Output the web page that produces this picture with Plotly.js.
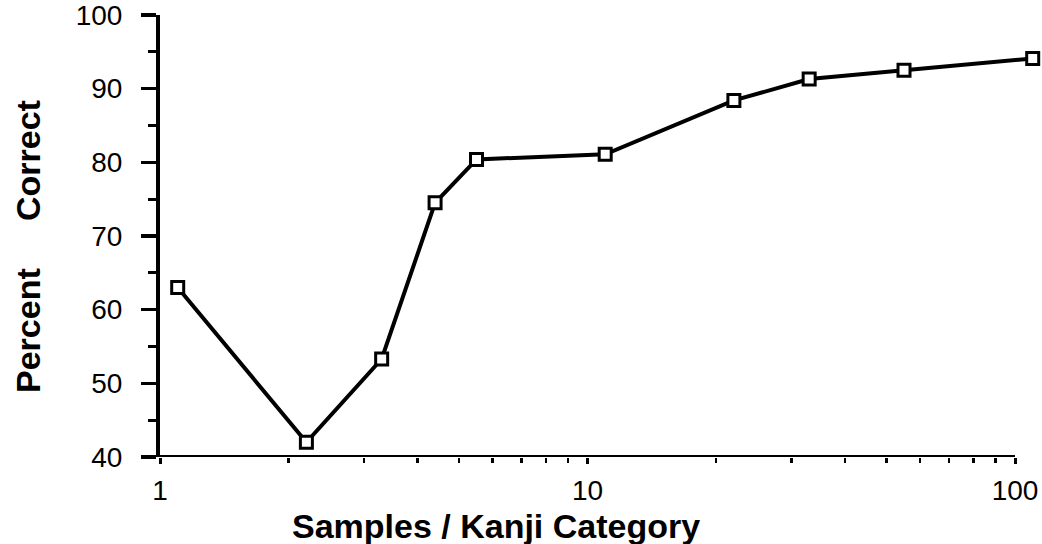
<!DOCTYPE html>
<html>
<head>
<meta charset="utf-8">
<script src="https://cdn.plot.ly/plotly-3.0.1.min.js"></script>
<style>html,body{margin:0;padding:0;background:#fff;}#chart{width:1042px;height:544px;}</style>
</head>
<body>
<div id="chart"></div>
<script>
const samples = [1.1, 2.2, 3.3, 4.4, 5.5, 11, 22, 33, 55, 110];
const percentCorrect = [63.0, 42.0, 53.3, 74.5, 80.4, 81.1, 88.4, 91.3, 92.5, 94.1];
const xTickVals = [1, 10, 100];
const xTickText = ["1", "10", "100"];
const xMinorVals = [2, 3, 4, 5, 6, 7, 8, 9, 20, 30, 40, 50, 60, 70, 80, 90];
const yTickVals = [40, 50, 60, 70, 80, 90, 100];
const yMinorVals = [45, 55, 65, 75, 85, 95];
const xTitle = "Samples / Kanji Category";
const yTitle = "Percent\u00a0\u00a0\u00a0\u00a0\u00a0Correct";

const font = "Liberation Sans, Arial, Helvetica, sans-serif";
const ML = 160, MR = 3, MT = 15, MB = 87, W = 1042, H = 544;
const plotW = W - ML - MR, plotH = H - MT - MB;
// x axis from 1 up past 100 so the last point (110) stays visible; axis line drawn 1..100
const xMax = Math.log10(xTickVals[xTickVals.length - 1]) * plotW / 855;

Plotly.newPlot("chart", [{
  x: samples,
  y: percentCorrect,
  type: "scatter",
  mode: "lines+markers",
  line: {color: "#000", width: 4},
  marker: {symbol: "square", size: 12, color: "#fff", line: {color: "#000", width: 3}},
  cliponaxis: false,
  showlegend: false
}], {
  width: W, height: H,
  paper_bgcolor: "#fff", plot_bgcolor: "#fff",
  margin: {l: ML, r: MR, t: MT, b: MB},
  xaxis: {
    type: "log", range: [0, xMax],
    tickmode: "array", tickvals: xTickVals, ticktext: xTickText,
    ticks: "outside", ticklen: 6, tickwidth: 3, tickcolor: "#000",
    minor: {tickmode: "array", tickvals: xMinorVals, ticks: "outside", ticklen: 5, tickwidth: 2.5, tickcolor: "#000", showgrid: false},
    showline: false,
    showgrid: false, zeroline: false,
    tickfont: {family: font, size: 28, color: "#000"},
    ticklabelstandoff: 2,
    ticklabeloverflow: "allow"
  },
  yaxis: {
    range: [40, 100],
    tickmode: "array", tickvals: yTickVals,
    ticks: "outside", ticklen: 15, tickwidth: 3.5, tickcolor: "#000",
    minor: {tickmode: "array", tickvals: yMinorVals, ticks: "outside", ticklen: 8, tickwidth: 3, tickcolor: "#000", showgrid: false},
    showline: true, linecolor: "#000", linewidth: 4,
    showgrid: false, zeroline: false,
    tickfont: {family: font, size: 28, color: "#000"},
    ticklabelstandoff: 13,
    ticklabeloverflow: "allow"
  },
  shapes: [{
    type: "line", xref: "x", yref: "y",
    x0: xTickVals[0], x1: xTickVals[xTickVals.length - 1], y0: yTickVals[0], y1: yTickVals[0],
    line: {color: "#000", width: 4}
  }],
  annotations: [{
    text: xTitle, xref: "paper", yref: "paper",
    x: (496 - ML) / plotW, y: -(526 - (H - MB)) / plotH,
    xanchor: "center", yanchor: "middle", showarrow: false,
    font: {family: font, size: 34, color: "#000", weight: "bold"}
  }, {
    text: yTitle, xref: "paper", yref: "paper", textangle: -90,
    x: -(ML - 28) / plotW, y: 1 - (247 - MT) / plotH,
    xanchor: "center", yanchor: "middle", showarrow: false,
    font: {family: font, size: 34, color: "#000", weight: "bold"}
  }]
}, {displayModeBar: false, staticPlot: true});
</script>
</body>
</html>
